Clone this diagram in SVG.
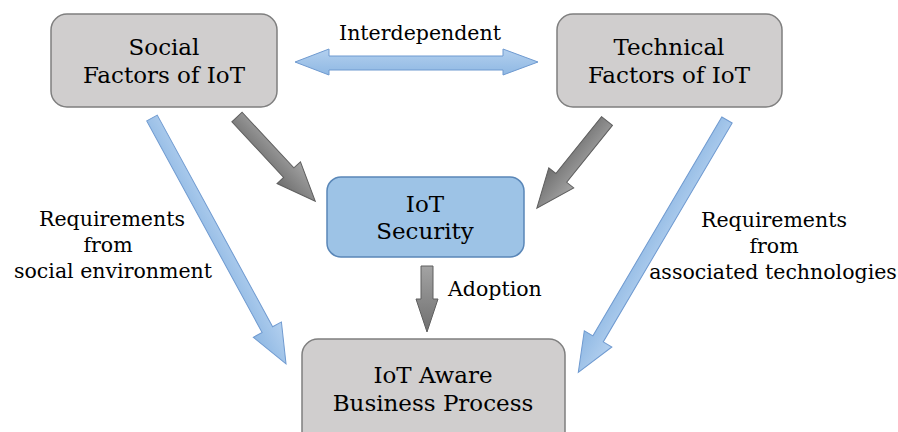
<svg xmlns="http://www.w3.org/2000/svg" width="898" height="432" viewBox="0 0 898 432">
<defs>
<linearGradient id="gGray" x1="0" y1="0" x2="0" y2="1">
<stop offset="0" stop-color="#a3a3a3"/>
<stop offset="1" stop-color="#6f6f6f"/>
</linearGradient>
<linearGradient id="gBlue" x1="0" y1="0" x2="0" y2="1">
<stop offset="0" stop-color="#b3d0ef"/>
<stop offset="1" stop-color="#8fb8e3"/>
</linearGradient>
<style>
.box{fill:#d0cece;stroke:#7f7f7f;stroke-width:1.5}
.sec{fill:#9dc3e6;stroke:#5a87b8;stroke-width:1.5}
.t{font-family:"DejaVu Serif","Liberation Serif",serif;fill:#000;text-anchor:middle}
.bt{font-size:23px}
.lt{font-size:20.5px}
.ga{fill:url(#gGray);stroke:#5f5f5f;stroke-width:1}
.ba{fill:url(#gBlue);stroke:#6f9ad0;stroke-width:1}
</style>
</defs>
<rect width="898" height="432" fill="#fff"/>
<g id="connectors">
<polygon id="interdependent" class="ba" points="295,62 329,49 329,56 503,56 503,49 538,62 503,75 503,70 329,70 329,75"/>
<polygon id="social-to-bp" class="ba" transform="translate(152,118) rotate(61.4)" points="0,-6 241,-6 241,-16 280,0 241,16 241,6 0,6"/>
<polygon id="tech-to-bp" class="ba" transform="translate(727,120) rotate(120.5)" points="0,-6 254,-6 254,-16 293,0 254,16 254,6 0,6"/>
<polygon id="social-to-sec" class="ga" transform="translate(237,117) rotate(47.1)" points="0,-7 76,-7 76,-16 115,0 76,16 76,7 0,7"/>
<polygon id="tech-to-sec" class="ga" transform="translate(607,121) rotate(128.8)" points="0,-7 73,-7 73,-16 112,0 73,16 73,7 0,7"/>
<polygon id="adoption" class="ga" points="421,266 433,266 433,299 438,299 427,332 416,299 421,299"/>
<text class="t lt" x="420" y="40">Interdependent</text>
<text class="t lt" x="112" y="226">Requirements</text>
<text class="t lt" x="108" y="252">from</text>
<text class="t lt" x="113" y="278">social environment</text>
<text class="t lt" x="774" y="227">Requirements</text>
<text class="t lt" x="774" y="253">from</text>
<text class="t lt" x="773" y="279">associated technologies</text>
<text class="t lt" x="448" y="296" style="text-anchor:start">Adoption</text>
</g>
<g id="social">
<rect class="box" x="51" y="14" width="226" height="93" rx="16"/>
<text class="t bt" x="164" y="55">Social</text>
<text class="t bt" x="164" y="83">Factors of IoT</text>
</g>
<g id="technical">
<rect class="box" x="557" y="14" width="225" height="93" rx="16"/>
<text class="t bt" x="669" y="55">Technical</text>
<text class="t bt" x="669" y="83">Factors of IoT</text>
</g>
<g id="security">
<rect class="sec" x="327" y="177" width="197" height="80" rx="14"/>
<text class="t bt" x="425" y="212">IoT</text>
<text class="t bt" x="425" y="239">Security</text>
</g>
<g id="business">
<rect class="box" x="302" y="339" width="263" height="110" rx="16"/>
<text class="t bt" x="433" y="383">IoT Aware</text>
<text class="t bt" x="433" y="411">Business Process</text>
</g>
</svg>
